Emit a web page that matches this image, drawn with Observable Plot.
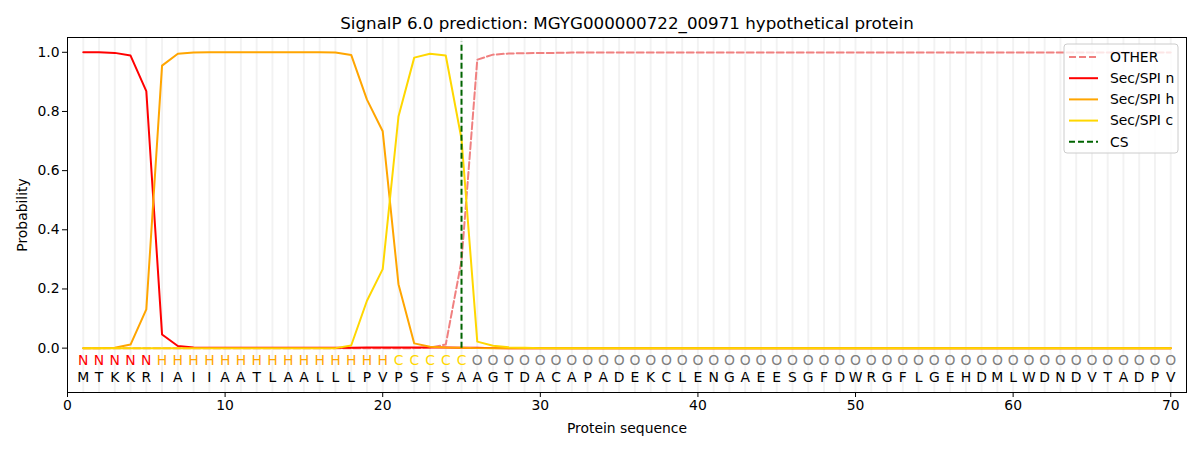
<!DOCTYPE html>
<html><head><meta charset="utf-8">
<script src="https://cdn.jsdelivr.net/npm/d3@7"></script>
<script src="https://cdn.jsdelivr.net/npm/@observablehq/plot@0.6"></script>
<style>
body{margin:0;background:#fff;}
#chart{position:relative;width:1200px;height:450px;}
svg{font-family:"DejaVu Sans",sans-serif;}
</style>
</head><body><div id="chart"></div>
<script>
const title = "SignalP 6.0 prediction: MGYG000000722_00971 hypothetical protein";
const positions = [1,2,3,4,5,6,7,8,9,10,11,12,13,14,15,16,17,18,19,20,21,22,23,24,25,26,27,28,29,30,31,32,33,34,35,36,37,38,39,40,41,42,43,44,45,46,47,48,49,50,51,52,53,54,55,56,57,58,59,60,61,62,63,64,65,66,67,68,69,70];
const residues = ["M","T","K","K","R","I","A","I","I","A","A","T","L","A","A","L","L","L","P","V","P","S","F","S","A","A","G","T","D","A","C","A","P","A","D","E","K","C","L","E","N","G","A","E","E","S","G","F","D","W","R","G","F","L","G","E","H","D","M","L","W","D","N","D","V","T","A","D","P","V"];
const regionLabels = ["N","N","N","N","N","H","H","H","H","H","H","H","H","H","H","H","H","H","H","H","C","C","C","C","C","O","O","O","O","O","O","O","O","O","O","O","O","O","O","O","O","O","O","O","O","O","O","O","O","O","O","O","O","O","O","O","O","O","O","O","O","O","O","O","O","O","O","O","O","O"];
const other = [0,0,0,0,0,0,0,0,0,0,0,0,0,0,0,0,0,0,0,0,0,0,0.002,0.012,0.295,0.975,0.992,0.996,0.997,0.998,0.998,0.999,0.999,0.999,0.999,0.999,0.999,0.999,0.999,0.999,0.999,0.999,0.999,0.999,0.999,0.999,0.999,0.999,0.999,0.999,0.999,0.999,0.999,0.999,0.999,0.999,0.999,0.999,0.999,0.999,0.999,0.999,0.999,0.999,0.999,0.999,0.999,0.999,0.999,0.999];
const secN = [1.0,1.0,0.998,0.989,0.869,0.046,0.007,0.002,0.001,0.001,0.001,0.001,0.001,0.001,0.001,0.001,0.001,0.001,0.002,0.002,0.002,0.002,0.002,0.002,0.001,0.001,0,0,0,0,0,0,0,0,0,0,0,0,0,0,0,0,0,0,0,0,0,0,0,0,0,0,0,0,0,0,0,0,0,0,0,0,0,0,0,0,0,0,0,0];
const secH = [0,0,0.001,0.012,0.131,0.955,0.995,0.999,1,1,1,1,1,1,1,1,0.999,0.991,0.84,0.733,0.216,0.016,0.005,0.002,0.001,0,0,0,0,0,0,0,0,0,0,0,0,0,0,0,0,0,0,0,0,0,0,0,0,0,0,0,0,0,0,0,0,0,0,0,0,0,0,0,0,0,0,0,0,0];
const secC = [0,0,0,0,0,0,0,0,0,0,0,0,0,0,0,0,0,0.009,0.16,0.267,0.783,0.982,0.995,0.989,0.707,0.022,0.008,0.003,0.001,0,0,0,0,0,0,0,0,0,0,0,0,0,0,0,0,0,0,0,0,0,0,0,0,0,0,0,0,0,0,0,0,0,0,0,0,0,0,0,0,0];
const csPosition = [25];
const csTop = 1.035;
const xTicks = [0,10,20,30,40,50,60,70];
const yTicks = [0,0.2,0.4,0.6,0.8,1.0];
const seriesNames = ["OTHER","Sec/SPI n","Sec/SPI h","Sec/SPI c","CS"];
const seriesColors = ["#f08080","#ff0000","#ffa500","#ffd700","#006400"];
const labelColors = {N:"#ff0000", H:"#ffa500", C:"#ffd700", O:"#808080"};

const mk = (arr) => positions.map((p,i)=>({x:p, y:arr[i]}));
const rows = positions.map((p,i)=>({x:p, res:residues[i], lab:regionLabels[i]}));

const plot = Plot.plot({
  width:1200, height:450,
  marginLeft:67, marginRight:14, marginTop:37, marginBottom:58,
  style:{fontFamily:"DejaVu Sans, sans-serif", fontSize:"13.9px", color:"#000", background:"#fff"},
  x:{domain:[0,71]},
  y:{domain:[-0.15,1.05]},
  marks:[
    Plot.ruleX(positions, {x:d=>d, stroke:"#000", strokeOpacity:0.05, strokeWidth:2}),
    Plot.line(mk(other), {x:"x", y:"y", stroke:seriesColors[0], strokeWidth:2, strokeDasharray:"7,3"}),
    Plot.line(mk(secN), {x:"x", y:"y", stroke:seriesColors[1], strokeWidth:2}),
    Plot.line(mk(secH), {x:"x", y:"y", stroke:seriesColors[2], strokeWidth:2}),
    Plot.line(mk(secC), {x:"x", y:"y", stroke:seriesColors[3], strokeWidth:2}),
    Plot.ruleX(csPosition, {x:d=>d, y1:0, y2:csTop, stroke:seriesColors[4], strokeWidth:2, strokeDasharray:"6,3"}),
    Plot.text(rows, {x:"x", y:-0.043, text:"lab", fill:d=>labelColors[d.lab], fontSize:13.9}),
    Plot.text(rows, {x:"x", y:-0.101, text:"res", fill:"#000", fontSize:13.9}),
    Plot.axisX({ticks:xTicks, tickSize:5, tickPadding:3, tickFormat:d=>String(d), label:"Protein sequence", labelAnchor:"center", labelArrow:"none", labelOffset:40, fontSize:13.9}),
    Plot.axisY({ticks:yTicks, tickSize:5, tickPadding:3, tickFormat:d=>d.toFixed(1), label:"Probability", labelAnchor:"center", labelArrow:"none", labelOffset:50, fontSize:13.9}),
    Plot.frame({stroke:"#000", strokeWidth:1}),
    Plot.text([title], {frameAnchor:"top", dy:-20, text:d=>d, fontSize:16.7, fill:"#000"})
  ]
});
document.getElementById("chart").appendChild(plot);

// legend (matplotlib-style box in upper right)
const svg = d3.select(plot);
const lg = svg.append("g").attr("transform","translate(1064,44)");
lg.append("rect").attr("width",114).attr("height",109).attr("rx",3)
  .attr("fill","#fff").attr("fill-opacity",0.8).attr("stroke","#cccccc");
const dashes = ["7,3",null,null,null,"6,3"];
seriesNames.forEach((n,i)=>{
  const cy = 13 + i*21.2;
  const l = lg.append("line").attr("x1",5).attr("x2",34).attr("y1",cy).attr("y2",cy)
    .attr("stroke",seriesColors[i]).attr("stroke-width",2);
  if (dashes[i]) l.attr("stroke-dasharray",dashes[i]);
  lg.append("text").attr("x",46).attr("y",cy).attr("dy","0.35em")
    .attr("text-anchor","start")
    .attr("font-size","13.9px").attr("fill","#000").text(n);
});
</script>
</body></html>
